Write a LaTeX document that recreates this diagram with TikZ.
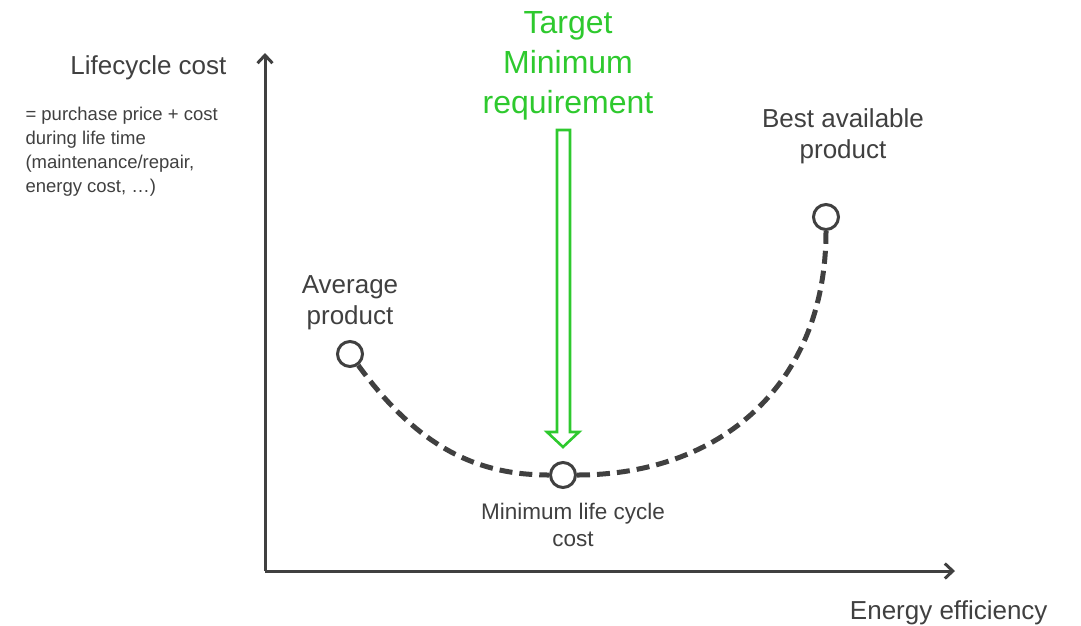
\documentclass[tikz,border=0pt]{standalone}
\usepackage{fontspec}
\setmainfont{Liberation Sans}
\usetikzlibrary{arrows.meta}
\definecolor{axisgray}{RGB}{64,64,64}
\definecolor{textgray}{RGB}{64,64,64}
\definecolor{targetgreen}{RGB}{46,201,46}
\begin{document}
\begin{tikzpicture}[x=1pt,y=-1pt,>={Straight Barb[length=8pt,width=15pt]},
      axis/.style={draw=axisgray,line width=3pt,->},
      pt/.style={circle,draw=axisgray,fill=white,line width=3pt,minimum size=25pt,inner sep=0pt},
      curve/.style={draw=axisgray,line width=5pt,dash pattern=on 13pt off 7pt},
      lbl/.style={text=textgray,align=center,font=\fontsize{26}{31}\selectfont},
      target/.style={text=targetgreen,align=center,font=\fontsize{32}{40}\selectfont}]
      \useasboundingbox (0,0) rectangle (1081,625);
      % axes
      \coordinate (origin) at (265,571);
      \coordinate (ytop) at (265,53);
      \coordinate (xend) at (955,571);
      \draw[axis] (origin) -- (ytop);
      \draw[axis] (origin) -- (xend);
      \node[lbl,anchor=east] (ylabel) at (230,68) {Lifecycle cost};
      \node[text=textgray,align=left,anchor=north west,font=\fontsize{18.5}{24}\selectfont] (ydesc) at (22,104)
        {= purchase price + cost\\during life time\\(maintenance/repair,\\energy cost, \dots)};
      \node[lbl,anchor=east] (xlabel) at (1051,613) {Energy efficiency};
      % products on the curve
      \node[pt] (avg) at (350,354) {};
      \node[pt] (mincost) at (563,475) {};
      \node[pt] (best) at (826,217) {};
      \draw[curve] (avg) .. controls (420,450) and (480,475) .. (mincost);
      \draw[curve] (mincost) .. controls (720,475) and (826,385) .. (best);
      \node[lbl] (avgtext) at (350,303) {Average\\product};
      \node[lbl] (besttext) at (843,136) {Best available\\product};
      \node[lbl,font=\fontsize{22.5}{27}\selectfont] (mintext) at (573,525) {Minimum life cycle\\cost};
      % target
      \node[target] (targettext) at (568,66) {Target\\Minimum\\requirement};
      \draw[targetgreen,line width=2.6pt,line join=miter] (557,130) -- (557,432) -- (547,432) -- (563,447)
        -- (579,432) -- (570,432) -- (570,130) -- cycle;
    \end{tikzpicture}
\end{document}
